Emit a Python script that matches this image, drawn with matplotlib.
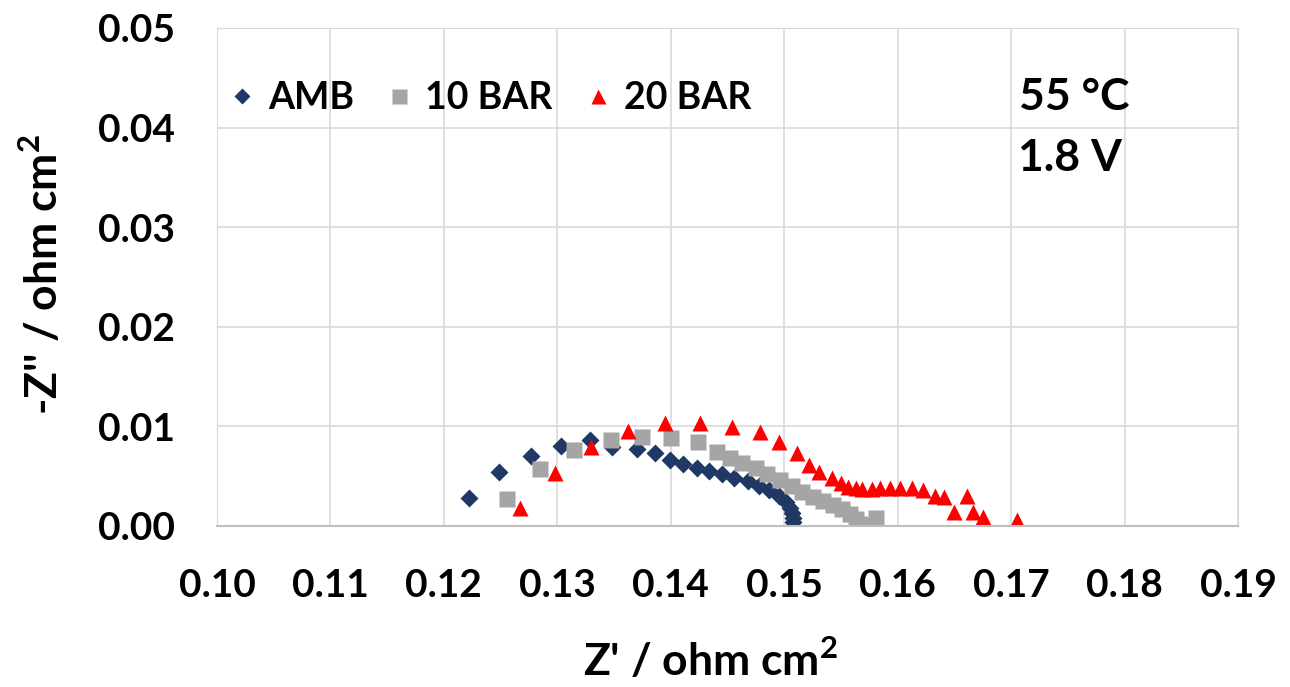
import matplotlib
matplotlib.use("Agg")
import matplotlib.pyplot as plt

plt.rcParams['font.family'] = ['Lato', 'DejaVu Sans']
plt.rcParams['font.weight'] = 'bold'
plt.rcParams['mathtext.fontset'] = 'custom'
plt.rcParams['mathtext.bf'] = 'Lato:bold'
plt.rcParams['mathtext.rm'] = 'Lato:bold'

# Nyquist data, Z' and -Z'' in ohm cm2
amb_re = [0.1222, 0.1249, 0.1277, 0.1303, 0.1329, 0.1348, 0.1370, 0.1386, 0.1399,
          0.1411, 0.1423, 0.1434, 0.1445, 0.1456, 0.1468, 0.1478, 0.1487, 0.1495,
          0.1502, 0.1505, 0.1507, 0.1508, 0.1508]
amb_im = [0.0028, 0.0054, 0.0070, 0.0080, 0.0086, 0.0079, 0.0077, 0.0073, 0.0066,
          0.0062, 0.0058, 0.0055, 0.0052, 0.0048, 0.0045, 0.0040, 0.0036, 0.0030,
          0.0024, 0.0018, 0.0013, 0.0008, 0.0004]

bar10_re = [0.1256, 0.1285, 0.1315, 0.1347, 0.1375, 0.1400, 0.1424, 0.1441, 0.1452,
            0.1463, 0.1475, 0.1485, 0.1496, 0.1507, 0.1516, 0.1525, 0.1534, 0.1543,
            0.1551, 0.1558, 0.1563, 0.1567, 0.1569, 0.1581]
bar10_im = [0.0027, 0.0057, 0.0076, 0.0086, 0.0089, 0.0088, 0.0084, 0.0074, 0.0068,
            0.0063, 0.0058, 0.0052, 0.0046, 0.0040, 0.0034, 0.0029, 0.0025, 0.0021,
            0.0017, 0.0012, 0.0007, 0.0002, 0.0000, 0.0008]

bar20_re = [0.1267, 0.1298, 0.1330, 0.1362, 0.1395, 0.1426, 0.1454, 0.1479, 0.1495,
            0.1511, 0.1522, 0.1531, 0.1542, 0.1550, 0.1556, 0.1563, 0.1569, 0.1577,
            0.1584, 0.1593, 0.1602, 0.1613, 0.1622, 0.1633, 0.1641, 0.1650, 0.1661,
            0.1666, 0.1675, 0.1705]
bar20_im = [0.0018, 0.0053, 0.0079, 0.0095, 0.0103, 0.0103, 0.0099, 0.0094, 0.0084,
            0.0073, 0.0061, 0.0054, 0.0048, 0.0043, 0.0039, 0.0038, 0.0037, 0.0037,
            0.0038, 0.0038, 0.0038, 0.0038, 0.0036, 0.0030, 0.0029, 0.0014, 0.0030,
            0.0014, 0.0009, 0.0006]

x_ticks = [0.10, 0.11, 0.12, 0.13, 0.14, 0.15, 0.16, 0.17, 0.18, 0.19]
y_ticks = [0.00, 0.01, 0.02, 0.03, 0.04, 0.05]

fig = plt.figure(figsize=(12.9, 6.87), dpi=100)
ax = fig.add_axes([0.1682, 0.2344, 0.7915, 0.7249])

ax.plot(amb_re, amb_im, 'D', ms=9, color='#1f3864', mec='none', label='AMB')
ax.plot(bar10_re, bar10_im, 's', ms=12, color='#a5a5a5', mec='none', label='10 BAR')
ax.plot(bar20_re, bar20_im, '^', ms=12, color='#ff0000', mec='none', label='20 BAR')

ax.set_xlim(0.10, 0.19)
ax.set_ylim(0.00, 0.05)
ax.set_xticks(x_ticks)
ax.set_yticks(y_ticks)
ax.set_xticklabels([f'{v:.2f}' for v in x_ticks])
ax.set_yticklabels([f'{v:.2f}' for v in y_ticks])
ax.tick_params(length=0, labelsize=28, pad=30)
for lab in ax.get_xticklabels() + ax.get_yticklabels():
    lab.set_fontweight('bold')

ax.grid(True, color='#d9d9d9', lw=1.2)
ax.set_axisbelow(True)
for s in ['top', 'right', 'left']:
    ax.spines[s].set_color('#d9d9d9')
ax.spines['bottom'].set_color('#bfbfbf')
ax.spines['bottom'].set_linewidth(1.5)

fig.text(0.551, 0.039, r"Z' / ohm cm$^\mathbf{2}$", fontsize=32, fontweight='bold',
         ha='center', va='center')
fig.text(0.033, 0.60, r"-Z'' / ohm cm$^\mathbf{2}$", fontsize=32, fontweight='bold',
         ha='center', va='center', rotation=90)

ax.text(0.840, 0.861, '55 °C', transform=ax.transAxes, fontsize=32,
        fontweight='bold', ha='center', va='center')
ax.text(0.835, 0.739, '1.8 V', transform=ax.transAxes, fontsize=32,
        fontweight='bold', ha='center', va='center')

leg = ax.legend(loc='center left', bbox_to_anchor=(-0.005, 0.859), ncol=3,
                frameon=False, fontsize=27, markerscale=0.9,
                handlelength=0.8, handletextpad=0.3, columnspacing=0.8,
                borderaxespad=0)
for t in leg.get_texts():
    t.set_fontweight('bold')

fig.savefig('out.png', dpi=100)
